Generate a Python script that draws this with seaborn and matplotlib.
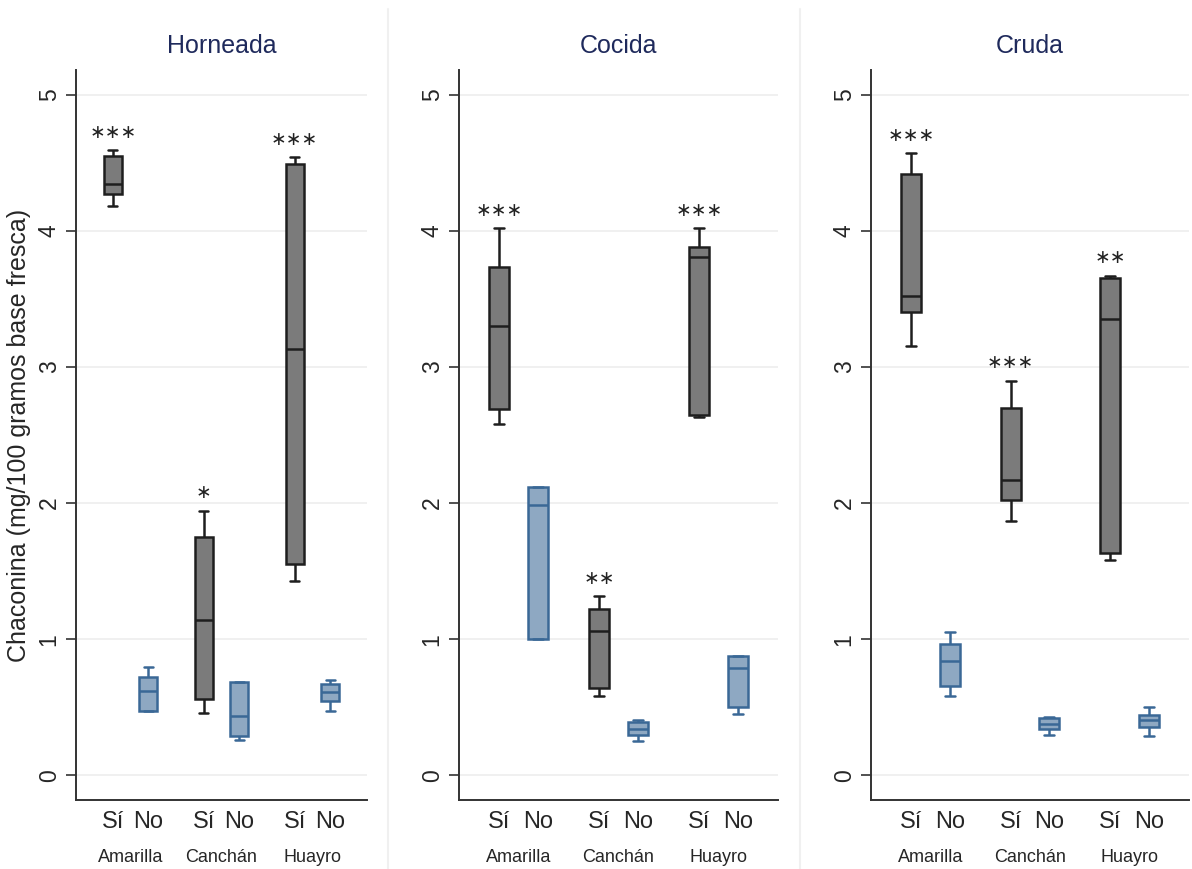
import numpy as np
import pandas as pd
import seaborn as sns
import matplotlib.pyplot as plt
from matplotlib.lines import Line2D

# datos: [min, q1, mediana, q3, max] por caja
preparaciones = ['Horneada', 'Cocida', 'Cruda']
variedades = ['Amarilla', 'Canchán', 'Huayro']
grupos = ['Sí', 'No']

horneada_si = [[4.18, 4.27, 4.34, 4.55, 4.59],
               [0.46, 0.56, 1.14, 1.75, 1.945],
               [1.43, 1.55, 3.13, 4.49, 4.54]]
horneada_no = [[0.47, 0.47, 0.62, 0.72, 0.80],
               [0.26, 0.29, 0.44, 0.69, 0.69],
               [0.47, 0.545, 0.61, 0.67, 0.70]]
cocida_si = [[2.58, 2.69, 3.30, 3.73, 4.02],
             [0.587, 0.644, 1.06, 1.224, 1.317],
             [2.63, 2.65, 3.81, 3.88, 4.02]]
cocida_no = [[1.0, 1.0, 1.985, 2.12, 2.12],
             [0.255, 0.30, 0.34, 0.39, 0.41],
             [0.45, 0.50, 0.786, 0.877, 0.877]]
cruda_si = [[3.15, 3.40, 3.52, 4.42, 4.57],
            [1.87, 2.02, 2.167, 2.70, 2.90],
            [1.58, 1.634, 3.35, 3.65, 3.67]]
cruda_no = [[0.58, 0.656, 0.84, 0.968, 1.057],
            [0.30, 0.34, 0.375, 0.42, 0.43],
            [0.29, 0.355, 0.41, 0.447, 0.50]]

estrellas = {'Horneada': ['***', '*', '***'],
             'Cocida': ['***', '**', '***'],
             'Cruda': ['***', '***', '**']}

valores = {'Horneada': (horneada_si, horneada_no),
           'Cocida': (cocida_si, cocida_no),
           'Cruda': (cruda_si, cruda_no)}

filas = []
for prep in preparaciones:
    for g, cajas in zip(grupos, valores[prep]):
        for var, cinco in zip(variedades, cajas):
            for v in cinco:
                filas.append({'prep': prep, 'variedad': var, 'grupo': g, 'valor': v})
df = pd.DataFrame(filas)

sns.set_style('white')
plt.rcParams['font.family'] = ['Liberation Sans', 'DejaVu Sans']

fig = plt.figure(figsize=(11.92, 8.69), dpi=100)
posiciones = [(76, 291), (459, 319), (871, 318)]
color_si, borde_si = '#7b7b7b', '#1e1e1e'
color_no, borde_no = '#8ea8c2', '#3a6896'

for i, prep in enumerate(preparaciones):
    x0, w = posiciones[i]
    ax = fig.add_axes([x0 / 1192, 1 - 800 / 869, w / 1192, 730 / 869])
    sub = df[df['prep'] == prep]
    for g, fc, ec in [('Sí', color_si, borde_si), ('No', color_no, borde_no)]:
        sns.boxplot(data=sub[sub['grupo'] == g], x='variedad', y='valor', hue='grupo',
                    order=variedades, hue_order=grupos, palette={'Sí': fc, 'No': fc},
                    dodge=True, width=0.78, gap=0.49, whis=(0, 100), linecolor=ec,
                    linewidth=1.8, saturation=1, legend=False, ax=ax)
    ax.set_xlim(-0.6, 2.6)
    ax.set_ylim(-0.18, 5.18)
    ax.set_yticks(range(6))
    ax.yaxis.grid(True, color='#eeeeee', linewidth=1.2)
    ax.set_axisbelow(True)
    for s in ['top', 'right']:
        ax.spines[s].set_visible(False)
    for s in ['left', 'bottom']:
        ax.spines[s].set_color('#333333')
        ax.spines[s].set_linewidth(1.4)

    xt = []
    for j in range(3):
        xt += [j - 0.195, j + 0.195]
    ax.set_xticks(xt)
    ax.set_xticklabels(grupos * 3, fontsize=17)
    ax.tick_params(axis='x', length=0, pad=8)
    ax.tick_params(axis='y', labelsize=16.5, length=7, width=1.2, color='#333333',
                   direction='out', left=True, pad=4, labelrotation=90)
    for t in ax.get_yticklabels():
        t.set_va('center')
    ax.set_xlabel('')
    ax.set_ylabel('')
    for j, var in enumerate(variedades):
        ax.text(j, -0.079, var, transform=ax.get_xaxis_transform(),
                ha='center', va='center', fontsize=13)
        tope = valores[prep][0][j][4]
        ax.text(j - 0.195, tope + 0.13, '∗' * len(estrellas[prep][j]),
                ha='center', va='center', fontsize=13.5, color='#222222',
                family=['DejaVu Sans'])
    ax.set_title(prep, fontsize=18, color='#1f2a5c', pad=12)
    if i == 0:
        ax.set_ylabel('Chaconina (mg/100 gramos base fresca)', fontsize=18, labelpad=5)

for xs in [388, 800]:
    fig.add_artist(Line2D([xs / 1192] * 2, [0.0, 0.99], color='#f0f0f0', linewidth=1.5))

fig.savefig('out.png', dpi=100)
